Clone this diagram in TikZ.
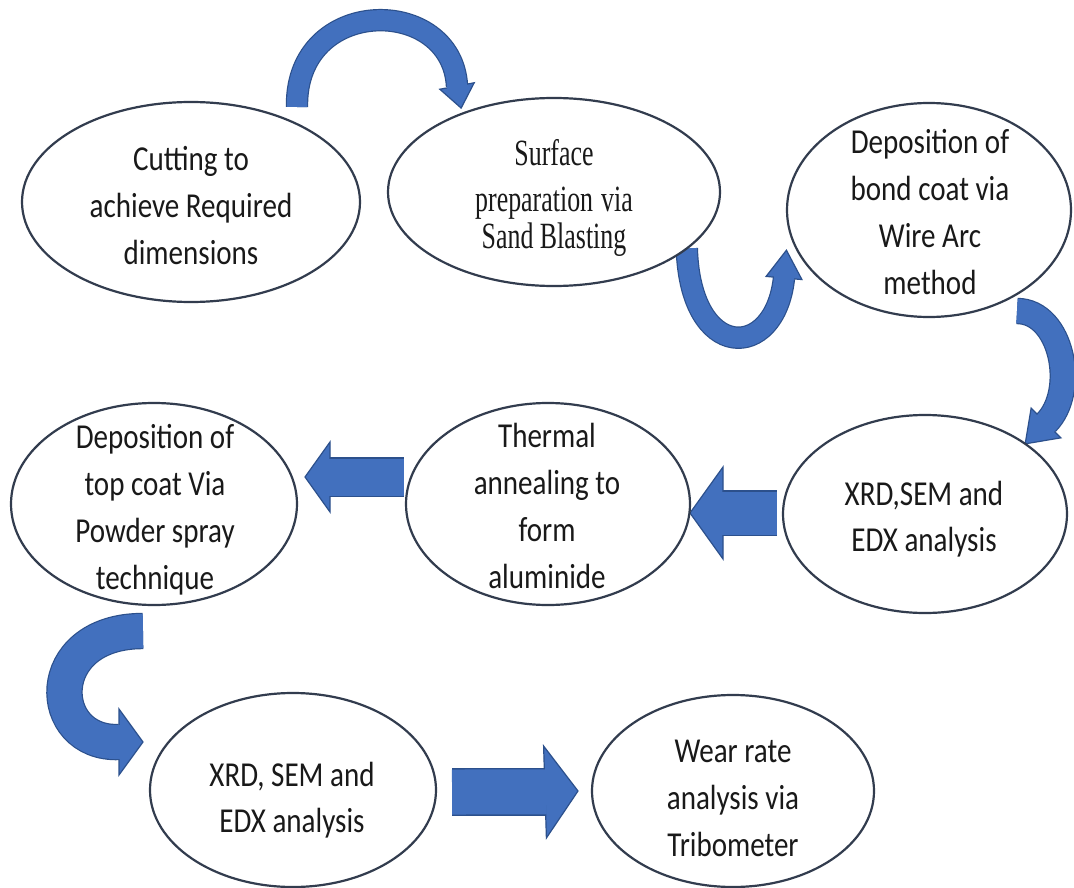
\documentclass[tikz,border=0pt]{standalone}
\usepackage{fontspec}
\usetikzlibrary{calc,shapes.geometric,backgrounds}
\newfontfamily\calfont[FakeStretch=0.83]{Carlito}
\newfontfamily\timfont[FakeStretch=0.70]{Liberation Serif}
\definecolor{afill}{RGB}{66,112,190}
\definecolor{aedge}{RGB}{44,80,140}
\definecolor{eline}{RGB}{50,60,78}
\definecolor{tcol}{RGB}{25,25,25}
\newcommand{\st}{\rule[-10pt]{0pt}{45pt}}
% curved band arrow: start, control1, control2, head base, tip, band width, half head width
\newcommand{\curvedarr}[7]{%
  \draw[aedge, line width=#6pt+2.4pt] (#1) .. controls (#2) and (#3) .. (#4);
  \filldraw[draw=aedge, fill=afill, line width=1.2pt, line join=miter]
    (#5) -- ($(#4)!#7pt!90:(#5)$) -- ($(#4)!#7pt!-90:(#5)$) -- cycle;
  \draw[afill, line width=#6pt] (#1) .. controls (#2) and (#3) .. (#4) -- ($(#4)!1.5pt!(#5)$);
}
% straight block arrow: start, head base, tip, shaft width, half head width
\newcommand{\blockarr}[5]{%
  \draw[aedge, line width=#4pt+2.4pt] (#1) -- (#2);
  \filldraw[draw=aedge, fill=afill, line width=1.2pt, line join=miter]
    (#3) -- ($(#2)!#5pt!90:(#3)$) -- ($(#2)!#5pt!-90:(#3)$) -- cycle;
  \draw[afill, line width=#4pt] (#1) -- ($(#2)!1.5pt!(#3)$);
}
\begin{document}
\begin{tikzpicture}[x=1pt,y=-1pt,
  ell/.style={ellipse, draw=eline, line width=2.2pt, fill=white, inner sep=0pt, outer sep=0pt},
  txt/.style={anchor=north, inner sep=0pt, align=center, text=tcol,
              font=\calfont\fontsize{35}{47}\selectfont},
]
\useasboundingbox (0,0) rectangle (1074,888);

% ellipses
\node[ell, minimum width=338pt, minimum height=200pt] (cut)   at (191,202) {};
\node[ell, minimum width=332pt, minimum height=188pt] (surf)  at (554,192) {};
\node[ell, minimum width=284pt, minimum height=214pt] (bond)  at (929,210) {};
\node[ell, minimum width=284pt, minimum height=198pt] (xrd1)  at (925,514) {};
\node[ell, minimum width=284pt, minimum height=202pt] (therm) at (548,504) {};
\node[ell, minimum width=286pt, minimum height=202pt] (top)   at (154,504) {};
\node[ell, minimum width=286pt, minimum height=194pt] (xrd2)  at (293,790) {};
\node[ell, minimum width=282pt, minimum height=192pt] (wear)  at (733,791) {};

% texts
\node[txt] (cutT) at (191,135) {\st Cutting to\\\st achieve Required\\\st dimensions};
\node[txt, font=\timfont\fontsize{37}{40}\selectfont] (surfT) at (554,130)
  {\st Surface\\\st preparation\hspace{8pt}via\\[-9pt]\st Sand Blasting};
\node[txt] (bondT) at (930,118) {\st Deposition of\\\st bond coat via\\\st Wire Arc\\\st method};
\node[txt, font=\calfont\fontsize{35}{46}\selectfont] (xrd1T) at (924,470) {\st XRD,SEM and\\\st EDX analysis};
\node[txt] (thermT) at (547,412) {\st Thermal\\\st annealing to\\\st form\\\st aluminide};
\node[txt] (topT) at (155,413) {\st Deposition of\\\st top coat Via\\\st Powder spray\\\st technique};
\node[txt, font=\calfont\fontsize{35}{46}\selectfont] (xrd2T) at (292,751) {\st XRD, SEM and\\\st EDX analysis};
\node[txt] (wearT) at (733,727) {\st Wear rate\\\st analysis via\\\st Tribometer};

% connector points
\coordinate (aS) at ($(cut.center)+(106,-95)$);
\coordinate (aB) at ($(surf.center)+(-97,-106)$);
\coordinate (aT) at ([yshift=6pt]surf.140);
\coordinate (bS) at (surf.-23);
\coordinate (bB) at ($(bond.center)+(-145,68)$);
\coordinate (bT) at ([xshift=-11pt]bond.197);
\coordinate (cS) at ($(bond.center)+(88,101)$);
\coordinate (cB) at ($(xrd1.center)+(121,-91)$);
\coordinate (cT) at (xrd1.35);
\coordinate (dS) at ($(xrd1.center)+(-148,-1)$);
\coordinate (dB) at ($(xrd1.center)+(-202,-1)$);
\coordinate (dT) at ([yshift=-9pt]therm.east);
\coordinate (gS) at ($(therm.center)+(-144,-27)$);
\coordinate (gB) at ($(therm.center)+(-218,-27)$);
\coordinate (gT) at ($(top.center)+(151,-27)$);
\coordinate (eS) at ($(top.center)+(-11,127)$);
\coordinate (eB) at ($(xrd2.center)+(-174,-48)$);
\coordinate (eT) at ($(xrd2.center)+(-150,-48)$);
\coordinate (fS) at ($(xrd2.center)+(159,2)$);
\coordinate (fB) at ($(xrd2.center)+(252,2)$);
\coordinate (fT) at ([xshift=-14pt]wear.west);

\begin{pgfonlayer}{background}
\fill[white] (0,0) rectangle (1074,888);
\curvedarr{aS}{295,-5}{452,-5}{aB}{aT}{20}{17.5}
\curvedarr{bS}{690,362}{775,362}{bB}{bT}{20}{18}
\curvedarr{cS}{1062,311}{1078,391}{cB}{cT}{24}{21}
\curvedarr{eS}{40,631}{45,745}{eB}{eT}{34}{33}
\blockarr{dS}{dB}{dT}{43}{46}
\blockarr{gS}{gB}{gT}{37}{35}
\blockarr{fS}{fB}{fT}{45}{46}
\end{pgfonlayer}
\end{tikzpicture}
\end{document}
